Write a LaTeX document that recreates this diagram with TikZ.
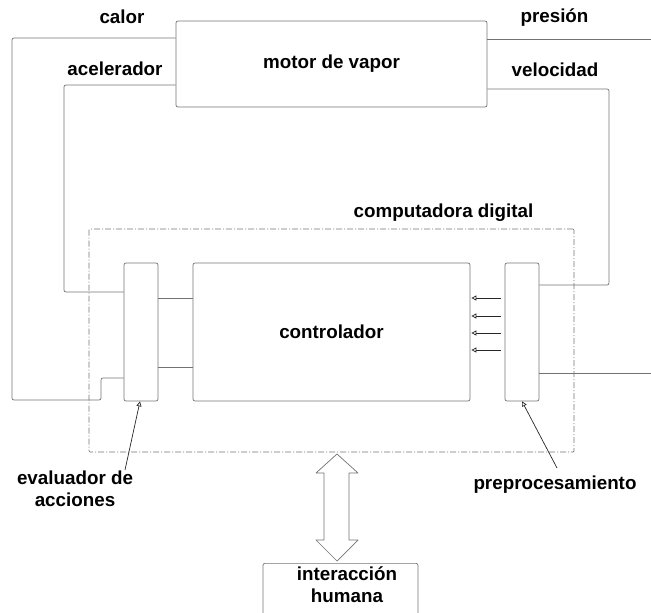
\documentclass[tikz,border=0pt]{standalone}
\usepackage{fontspec}
\setmainfont{Liberation Sans}
\usepackage{tikz}
\usetikzlibrary{arrows.meta, positioning}

\begin{document}
\begin{tikzpicture}[
  >={Triangle[open, length=5pt, width=5pt]},
  x=1pt, y=-1pt, % pixel grid: y runs downwards
  blk/.style={draw=black!55, line width=0.7pt, rounded corners=2pt, minimum width=#1, inner sep=0pt},
  txt/.style={font=\fontsize{18.8}{22}\selectfont\bfseries, align=center, inner sep=1pt},
  wire/.style={draw=black!55, line width=0.7pt, rounded corners=2pt},
  sig/.style={->, draw=black!85, line width=0.7pt}
]
  \clip (0,0) rectangle (651,613);

  % bloques
  \node[blk=311pt, minimum height=86pt, txt] (motor) at (331.5,64) {motor de vapor};
  \node[blk=485pt, minimum height=223pt, rounded corners=1pt,
        dash pattern=on 6pt off 2pt on 1pt off 2pt] (dig) at (331.5,340.5) {};
  \node[blk=34pt, minimum height=138pt] (eval) at (141,332) {};
  \node[blk=277pt, minimum height=138pt, txt] (ctrl) at (331.5,332) {controlador};
  \node[blk=34pt, minimum height=138pt] (prep) at (522,332) {};
  \node[blk=155pt, minimum height=60pt, anchor=north] (hum) at (340.5,563) {};

  % etiquetas
  \node[txt] (calor) at (122,17) {calor};
  \node[txt] (acel) at (115,69) {acelerador};
  \node[txt] (pres) at (554.5,18) {presión};
  \node[txt] (vel) at (555,70) {velocidad};
  \node[txt] (digl) at (443.5,213) {computadora digital};
  \node[txt] (evall) at (75,489) {evaluador de\\acciones};
  \node[txt] (prepl) at (555,485) {preprocesamiento};
  \node[txt] (huml) at (347,585) {interacción\\humana};

  % lazos del motor
  \draw[wire] (motor.west |- 0,38) -- (12,38) -- (12,400) -- (101,400) -- (101,378) -- (eval.west |- 0,378);
  \draw[wire] (motor.west |- 0,85) -- (64,85) -- (64,292) -- (eval.west |- 0,292);
  \draw[wire] (motor.east |- 0,39) -- (651,39);
  \draw[wire] (motor.east |- 0,89) -- (609,89) -- (609,285) -- (prep.east |- 0,285);
  \draw[wire] (prep.east |- 0,373) -- (651,373);

  % evaluador -> controlador
  \foreach \yy in {298,367}
    \draw[wire] (eval.east |- 0,\yy) -- (ctrl.west |- 0,\yy);

  % preprocesamiento -> controlador
  \foreach \yy in {298,316,333,350}
    \draw[sig] ([xshift=-4pt]prep.west |- 0,\yy) -- ([xshift=1pt]ctrl.east |- 0,\yy);

  % flechas de las etiquetas
  \draw[sig] (125,470) -- ([xshift=-1pt]eval.south);
  \draw[sig] (557,468) -- (prep.south);

  % interaccion humana <-> computadora
  \draw[draw=black!55, line width=0.7pt, fill=white, line join=round]
    (337,454) -- (358,473) -- (349,473) -- (349,540) -- (358,540) -- (337,561)
    -- (316,540) -- (324,540) -- (324,473) -- (316,473) -- cycle;
\end{tikzpicture}
\end{document}
